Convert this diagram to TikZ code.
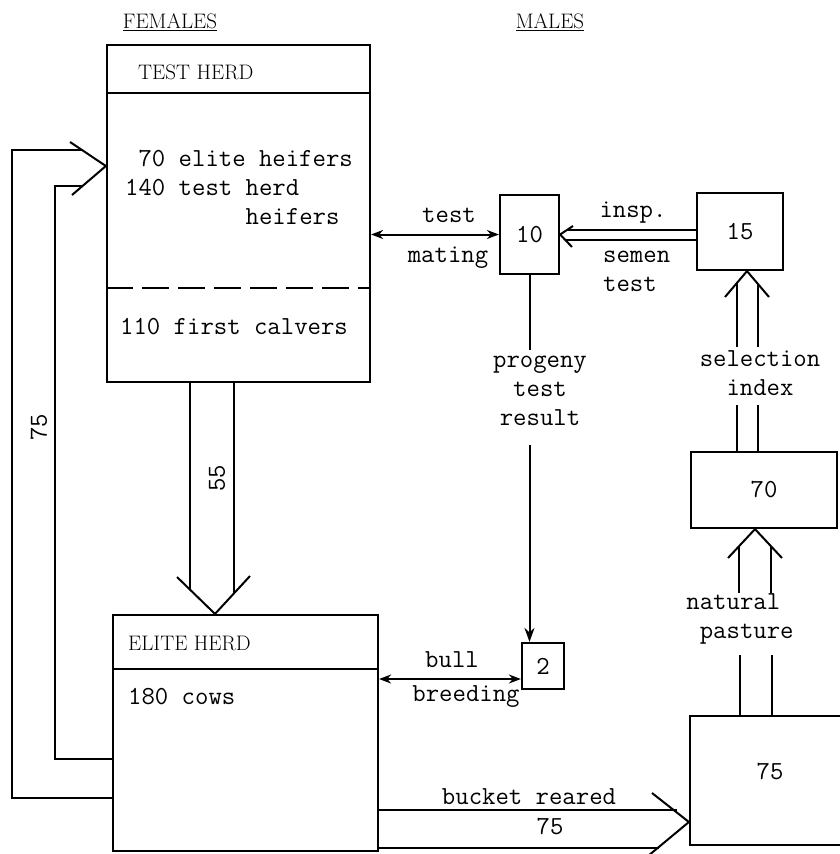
\documentclass[tikz,border=0pt]{standalone}
\usepackage{fontspec}
\usetikzlibrary{arrows.meta,positioning}

\tikzset{
  box/.style={draw, line width=2.2pt, inner sep=0pt, font=\fontsize{26}{29}\selectfont\ttfamily},
  rule/.style={line width=2.2pt},
  flow/.style={line width=2pt},
  lbl/.style={inner sep=0pt, font=\fontsize{26}{29}\selectfont\ttfamily},
  caps/.style={inner sep=0pt, font=\fontsize{21}{24}\selectfont\rmfamily},
  tip/.style={-{Stealth[length=14pt,width=10pt]}},
  twotips/.style={{Stealth[length=12pt,width=9pt]}-{Stealth[length=12pt,width=9pt]}},
}

\begin{document}
\begin{tikzpicture}[x=1pt, y=-1pt]
    \useasboundingbox (0,0) rectangle (840,854);

    \node[caps, anchor=base] (fem) at (170,28) {\underline{FEMALES}};
    \node[caps, anchor=base] (mal) at (550,28) {\underline{MALES}};

    \node[box, minimum width=263, minimum height=337] (test) at (238.5,213.5) {};
    \node[box, minimum width=265, minimum height=236] (elite) at (245.5,733) {};
    \node[box, minimum width=59, minimum height=79] (ten) at (529.5,234.5) {10};
    \node[box, minimum width=86, minimum height=77] (fifteen) at (740,231.5) {15};
    \node[box, minimum width=146, minimum height=76] (seventy) at (764,490) {70};
    \node[box, minimum width=42, minimum height=46] (two) at (543,666) {2};
    \node[box, minimum width=160, minimum height=129] (pasture) at (770,780.5) {};
    \node[lbl] (pasturenum) at (770,772) {75};

    \draw[rule] (test.west |- 0,93) -- (test.east |- 0,93);
    \draw[rule, dash pattern=on 27pt off 9pt] (test.west |- 0,288) -- (test.east |- 0,288);
    \draw[rule] (elite.west |- 0,669) -- (elite.east |- 0,669);

    \node[caps, anchor=west] (testname) at (138,72) {TEST HERD};
    \node[lbl, anchor=west, align=left] (heifers) at (125,188)
        {\phantom{1}70 elite heifers\\140 test herd\\\phantom{140 test\ }heifers};
    \node[lbl, anchor=west] (calvers) at (120,327) {110 first calvers};
    \node[caps, anchor=west] (elitename) at (128,643) {ELITE HERD};
    \node[lbl, anchor=west] (cows) at (128,697) {180 cows};

    \draw[flow, twotips] (test.east |- ten) -- (ten.west);
    \node[lbl] (testword) at (449,215) {test};
    \node[lbl] (mating) at (448,258) {mating};

    \draw[flow] (fifteen.west |- 0,230) -- (567,230);
    \draw[flow] (fifteen.west |- 0,240) -- (566,240);
    \draw[flow] (573,226) -- (ten.east) -- (572,247);
    \node[lbl] (insp) at (633,213) {insp.};
    \node[lbl, anchor=west, align=left] (semen) at (603,271) {semen\\test};

    \node[lbl, align=center] (progeny) at (540,391) {progeny\\test\\result};
    \draw[flow] (ten.south) -- (ten.south |- 0,350);
    \draw[flow, tip] (ten.south |- 0,445) -- (ten.south |- two.north);

    \draw[flow, twotips] (elite.east |- 0,679) -- (two.west |- 0,679);
    \node[lbl] (bull) at (452,660) {bull};
    \node[lbl] (breeding) at (466,697) {breeding};

    \draw[flow] (elite.east |- 0,810) -- (677,810);
    \draw[flow] (elite.east |- 0,848) -- (659,848);
    \draw[flow] (652,793) -- (pasture.west |- 0,822) -- (648,856);
    \node[lbl] (bucket) at (529,797) {bucket reared};
    \node[lbl] (bucketnum) at (550,827) {75};

    \draw[flow] (elite.west |- 0,798) -| (12,150) -- (82,150);
    \draw[flow] (elite.west |- 0,759) -| (55,186) -- (83,186);
    \draw[flow] (70,142) -- (test.west |- 0,166) -- (72,195);
    \node[lbl, rotate=90] (loopnum) at (39,427) {75};

    \draw[flow] (test.south -| 190,0) -- (190,590);
    \draw[flow] (test.south -| 234,0) -- (234,593);
    \draw[flow] (177,577) -- (elite.north -| 215,0) -- (250,576);
    \node[lbl, rotate=90] (downnum) at (217,478) {55};

    \node[lbl, align=center] (selidx) at (760,373) {selection\\index};
    \draw[flow] (seventy.north -| 737,0) -- (737,405);
    \draw[flow] (seventy.north -| 758,0) -- (758,405);
    \draw[flow] (737,347) -- (737,283);
    \draw[flow] (758,347) -- (758,284);
    \draw[flow] (725,297) -- (fifteen.south -| 747,0) -- (769,297);

    \node[lbl, align=left] (natural) at (740,619) {natural\\\phantom{n}pasture};
    \draw[flow] (pasture.north -| 740,0) -- (740,655);
    \draw[flow] (pasture.north -| 772,0) -- (772,655);
    \draw[flow] (739,593) -- (739,546);
    \draw[flow] (771,593) -- (771,546);
    \draw[flow] (728,558) -- (seventy.south -| 755,0) -- (782,558);
\end{tikzpicture}
\end{document}
